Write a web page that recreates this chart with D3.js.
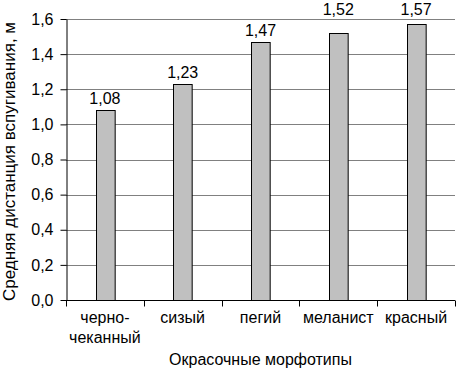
<!DOCTYPE html>
<html>
<head>
<meta charset="utf-8">
<script src="https://cdn.jsdelivr.net/npm/d3@7"></script>
<style>
  body { margin: 0; background: #fff; }
  text { font-family: "Liberation Sans", Arial, sans-serif; }
</style>
</head>
<body>
<div id="chart"></div>
<script>
// Chart data
const categories = ["черно-\nчеканный", "сизый", "пегий", "меланист", "красный"];
const values = [1.08, 1.23, 1.47, 1.52, 1.57];
const yTicks = [0, 0.2, 0.4, 0.6, 0.8, 1.0, 1.2, 1.4, 1.6];

const W = 457, H = 370;
const margin = {top: 19, right: 2, bottom: 70, left: 66};
const width = W - margin.left - margin.right;
const height = H - margin.top - margin.bottom;
const fs = "16px";

const svg = d3.select("#chart")
    .append("svg")
    .attr("width", W)
    .attr("height", H);

const g = svg.append("g")
    .attr("transform", `translate(${margin.left},${margin.top})`);

const x = d3.scaleBand()
    .domain(categories)
    .range([0, width])
    .paddingInner(0.76)
    .paddingOuter(0.38);

const y = d3.scaleLinear()
    .domain([0, 1.6])
    .range([height, 0]);

const fmt = d => d.toFixed(1).replace(".", ",");

// Gridlines
g.append("g")
    .selectAll("line")
    .data(yTicks.filter(d => d > 0))
    .enter()
    .append("line")
    .attr("x1", 0)
    .attr("x2", width)
    .attr("y1", d => Math.round(y(d)) + 0.5)
    .attr("y2", d => Math.round(y(d)) + 0.5)
    .style("stroke", "#808080")
    .style("stroke-width", 1);

// Bars
g.selectAll("rect.bar")
    .data(values)
    .enter()
    .append("rect")
    .attr("class", "bar")
    .attr("x", (d, i) => Math.round(x(categories[i])) + 0.5)
    .attr("y", d => Math.round(y(d)) + 0.5)
    .attr("width", x.bandwidth())
    .attr("height", d => height - Math.round(y(d)))
    .style("fill", "#c0c0c0")
    .style("stroke", "#000")
    .style("stroke-width", 1);

// Value labels (labels that would cross the top of the plot are lifted above it)
g.selectAll("text.val")
    .data(values)
    .enter()
    .append("text")
    .attr("class", "val")
    .attr("x", (d, i) => x(categories[i]) + x.bandwidth() / 2)
    .attr("y", d => (y(d) - 6 - 11 < 0) ? -4 : y(d) - 6)
    .attr("text-anchor", "middle")
    .style("font-size", fs)
    .text(d => d.toFixed(2).replace(".", ","));

// Y axis
const yAxis = g.append("g")
    .attr("transform", "translate(0.5,0)")
    .call(d3.axisLeft(y).tickValues(yTicks).tickFormat(fmt).tickSize(6).tickSizeOuter(0));
yAxis.selectAll("text").style("font-size", fs).attr("x", -13).attr("fill", "#000")
    .style("font-family", "'Liberation Sans', Arial, sans-serif");
yAxis.selectAll("line").attr("stroke", "#000");
yAxis.select(".domain").attr("stroke", "#000");

// X axis
const xAxis = g.append("g")
    .attr("transform", `translate(0,${height + 0.5})`);
xAxis.append("line")
    .attr("x1", 0).attr("x2", width)
    .style("stroke", "#000");
xAxis.selectAll("line.tick")
    .data(d3.range(categories.length + 1))
    .enter()
    .append("line")
    .attr("class", "tick")
    .attr("x1", i => Math.round(i * width / categories.length) + 0.5)
    .attr("x2", i => Math.round(i * width / categories.length) + 0.5)
    .attr("y1", 0)
    .attr("y2", 6)
    .style("stroke", "#000");

xAxis.selectAll("text.cat")
    .data(categories)
    .enter()
    .append("text")
    .attr("class", "cat")
    .attr("text-anchor", "middle")
    .style("font-size", fs)
    .each(function(d) {
        const cx = x(d) + x.bandwidth() / 2;
        d3.select(this).selectAll("tspan")
            .data(d.split("\n"))
            .enter()
            .append("tspan")
            .attr("x", cx)
            .attr("y", (t, i) => 22 + i * 20)
            .text(t => t);
    });

// Axis titles
svg.append("text")
    .attr("x", margin.left + width / 2)
    .attr("y", 365)
    .attr("text-anchor", "middle")
    .style("font-size", fs)
    .text("Окрасочные морфотипы");

svg.append("text")
    .attr("transform", `translate(15,${margin.top + height / 2 + 2}) rotate(-90)`)
    .attr("text-anchor", "middle")
    .style("font-size", "17px")
    .text("Средняя дистанция вспугивания, м");
</script>
</body>
</html>
